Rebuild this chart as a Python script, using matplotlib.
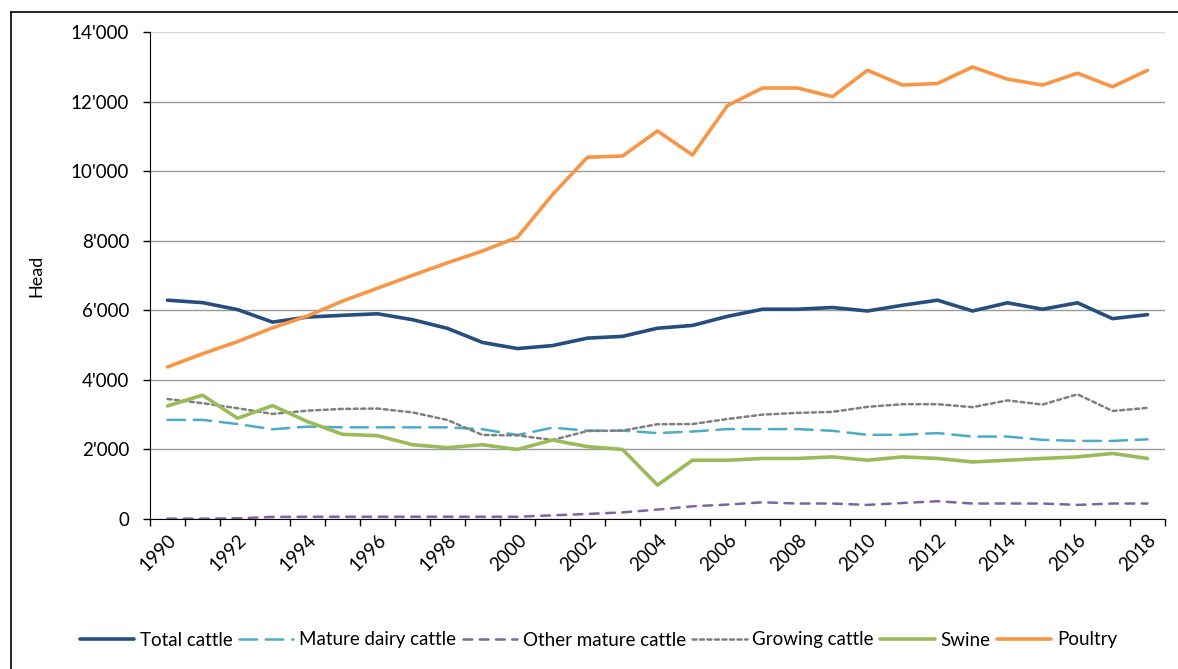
import matplotlib
matplotlib.use('Agg')
import matplotlib.pyplot as plt
from matplotlib.lines import Line2D
from matplotlib.ticker import FuncFormatter, FixedLocator
import numpy as np

plt.rcParams['font.family'] = ['Lato', 'DejaVu Sans']

years = list(range(1990, 2019))

total_cattle = [6290, 6220, 6020, 5660, 5805, 5855, 5900, 5730, 5480, 5075, 4900,
                4985, 5200, 5250, 5485, 5565, 5825, 6030, 6030, 6080, 5980,
                6145, 6290, 5980, 6215, 6030, 6215, 5760, 5875]
mature_dairy = [2850, 2850, 2730, 2580, 2655, 2635, 2635, 2635, 2635, 2580, 2415,
                2625, 2540, 2540, 2470, 2515, 2585, 2585, 2585, 2535, 2420,
                2420, 2470, 2370, 2370, 2275, 2245, 2245, 2290]
other_mature = [10, 10, 20, 60, 65, 65, 65, 65, 65, 65, 65,
                105, 145, 190, 270, 365, 415, 480, 445, 445, 405,
                460, 510, 445, 445, 445, 405, 445, 445]
growing = [3450, 3330, 3185, 3020, 3115, 3165, 3175, 3065, 2845, 2415, 2405,
           2270, 2530, 2540, 2725, 2730, 2875, 3000, 3050, 3080, 3225,
           3300, 3300, 3215, 3410, 3290, 3585, 3105, 3195]
swine = [3250, 3560, 2895, 3260, 2800, 2435, 2395, 2135, 2050, 2135, 2000,
         2270, 2080, 2000, 975, 1690, 1690, 1740, 1740, 1785, 1690,
         1785, 1740, 1640, 1690, 1740, 1785, 1885, 1740]
poultry = [4370, 4750, 5100, 5495, 5835, 6265, 6635, 7005, 7365, 7705, 8100,
           9325, 10400, 10435, 11155, 10465, 11885, 12390, 12390, 12140, 12900,
           12475, 12520, 12995, 12645, 12475, 12815, 12425, 12900]

labels = ['Total cattle', 'Mature dairy cattle', 'Other mature cattle',
          'Growing cattle', 'Swine', 'Poultry']
colors = ['#254E7E', '#4BACC6', '#8064A2', '#7F7F7F', '#9BBB59', '#F79646']

fig = plt.figure(figsize=(11.78, 6.69), dpi=100)
ax = fig.add_axes([150 / 1178, 1 - 519 / 669, 1015 / 1178, 487 / 669])

x = np.arange(len(years))
ax.plot(x, total_cattle, color=colors[0], lw=2.6, label=labels[0], solid_capstyle='round')
ax.plot(x, mature_dairy, color=colors[1], lw=1.8, label=labels[1],
        dashes=(7, 3.5), dash_capstyle='round')
ax.plot(x, other_mature, color=colors[2], lw=1.8, label=labels[2],
        dashes=(3.5, 3), dash_capstyle='round')
ax.plot(x, growing, color=colors[3], lw=1.8, label=labels[3],
        dashes=(1.6, 1.4), dash_capstyle='round')
ax.plot(x, swine, color=colors[4], lw=2.6, label=labels[4], solid_capstyle='round')
ax.plot(x, poultry, color=colors[5], lw=2.6, label=labels[5], solid_capstyle='round')

ax.set_xlim(-0.5, len(years) - 0.5)
ax.set_ylim(0, 14000)
ax.set_yticks(np.arange(0, 14001, 2000))
ax.yaxis.set_major_formatter(FuncFormatter(lambda v, p: f"{int(v):,}".replace(',', "'")))
ax.tick_params(axis='y', length=5, width=1, labelsize=13.5, pad=10, direction='out')

ax.xaxis.set_major_locator(FixedLocator(x[::2]))
ax.set_xticklabels([str(y) for y in years[::2]], rotation=45, ha='right',
                   va='top', rotation_mode='anchor')
ax.xaxis.set_minor_locator(FixedLocator(np.arange(-0.5, len(years), 1)))
ax.tick_params(axis='x', which='major', length=0, labelsize=13.5, pad=9)
ax.tick_params(axis='x', which='minor', length=5, width=1, direction='out')

ax.grid(axis='y', color='#9a9a9a', lw=1)
ax.get_ygridlines()[-1].set_color('#d9d9d9')
ax.set_axisbelow(True)
for s in ['top', 'right']:
    ax.spines[s].set_visible(False)
ax.spines['left'].set_color('black')
ax.spines['bottom'].set_color('black')

ax.set_ylabel('Head', fontsize=13)
ax.yaxis.set_label_coords(-0.104, 0.5)

fig.legend(loc='center', bbox_to_anchor=(0.508, 1 - 640 / 669), ncol=6, frameon=False,
           fontsize=13.5, handlelength=2.9, handletextpad=0.3, columnspacing=0.35)

# outer chart frame (cropped at right and bottom)
fig.add_artist(Line2D([11 / 1178, 1], [1 - 12 / 669] * 2, color='black', lw=1.2,
                      transform=fig.transFigure))
fig.add_artist(Line2D([11 / 1178] * 2, [0, 1 - 12 / 669], color='black', lw=1.2,
                      transform=fig.transFigure))

fig.savefig('out.png', dpi=100)
